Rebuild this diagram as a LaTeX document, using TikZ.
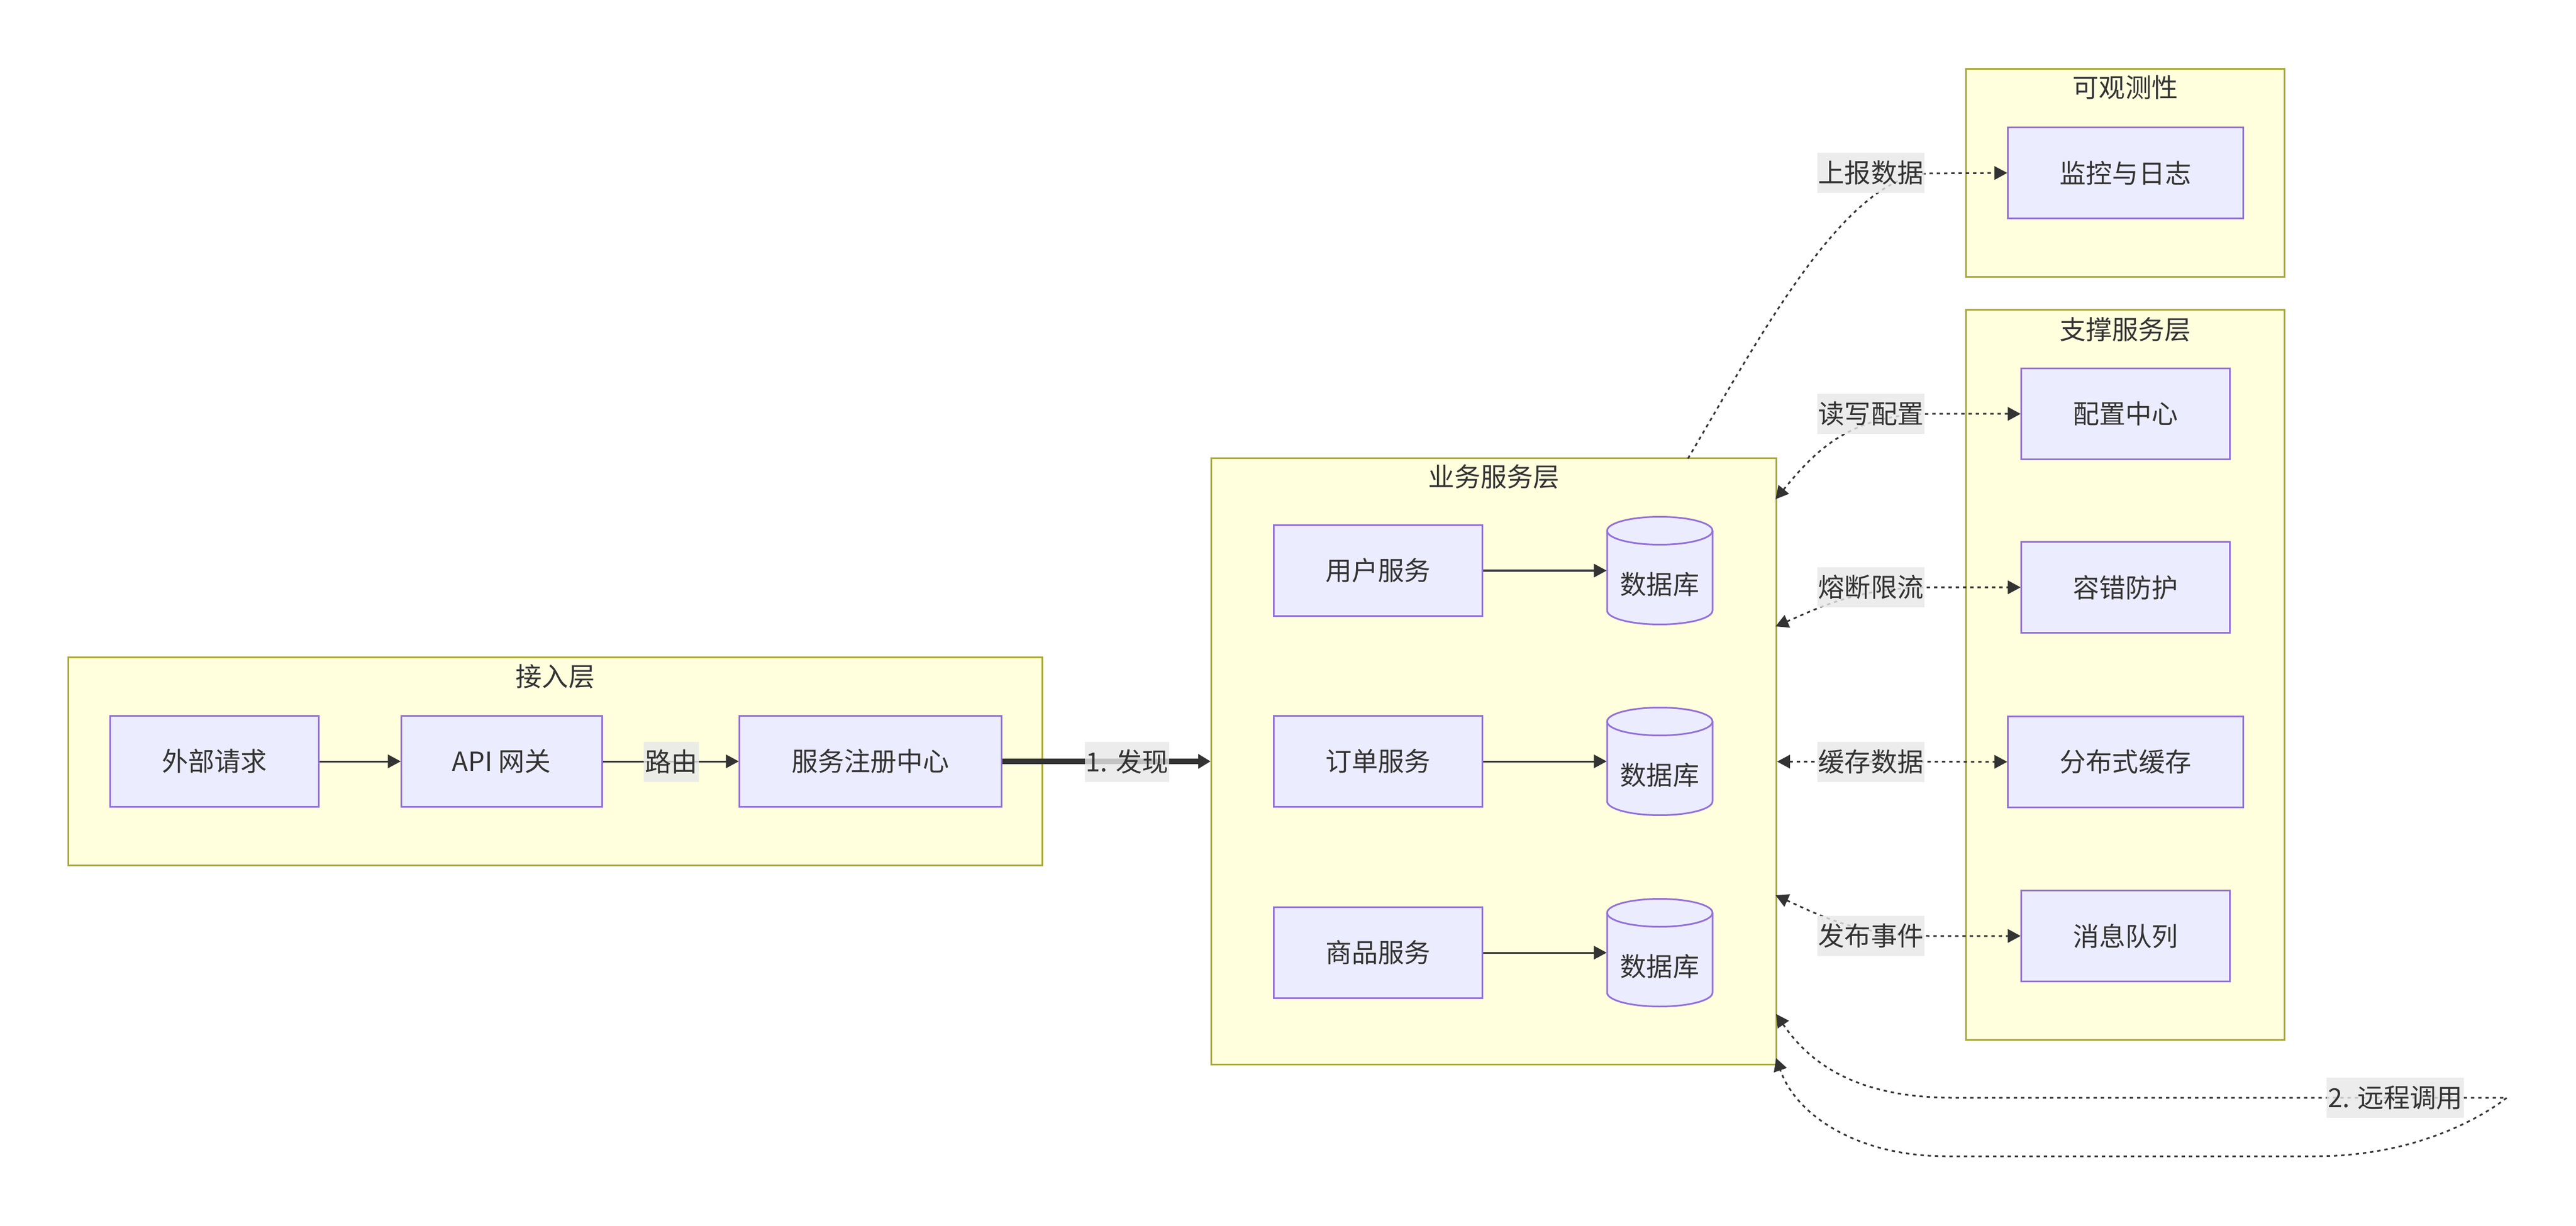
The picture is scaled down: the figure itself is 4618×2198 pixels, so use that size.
\documentclass[tikz,border=0pt]{standalone}
\usepackage{fontspec}
\setmainfont{Noto Sans CJK SC}
\usetikzlibrary{arrows.meta}
\definecolor{clfill}{HTML}{FFFFDE}
\definecolor{clline}{HTML}{AAAA33}
\definecolor{ndfill}{HTML}{ECECFF}
\definecolor{ndline}{HTML}{9370DB}
\definecolor{txt}{HTML}{333333}
\definecolor{lblbg}{HTML}{E8E8E8}
\pgfdeclarelayer{clusters}
\pgfdeclarelayer{edges}
\pgfsetlayers{clusters,edges,main}
\newcommand{\dbcyl}[3]{%
 \path[dbbody] (#2-94.5,#3-71.5) -- (#2-94.5,#3+71.5) .. controls (#2-94.5,#3+85.31) and (#2-52.19,#3+96.5) .. (#2,#3+96.5) .. controls (#2+52.19,#3+96.5) and (#2+94.5,#3+85.31) .. (#2+94.5,#3+71.5) -- (#2+94.5,#3-71.5) .. controls (#2+94.5,#3-85.31) and (#2+52.19,#3-96.5) .. (#2,#3-96.5) .. controls (#2-52.19,#3-96.5) and (#2-94.5,#3-85.31) .. (#2-94.5,#3-71.5) -- cycle;
 \draw[draw=ndline, line width=0.03cm] (#2-94.5,#3-71.5) .. controls (#2-94.5,#3-57.69) and (#2-52.19,#3-46.5) .. (#2,#3-46.5) .. controls (#2+52.19,#3-46.5) and (#2+94.5,#3-57.69) .. (#2+94.5,#3-71.5);
 \node[dbhold] (#1) at (#2,#3) {};
 \node[inner sep=0pt] (#1t) at (#2,#3+25) {数据库};
}
\begin{document}
\begin{tikzpicture}[x=0.01cm,y=-0.01cm,
  every node/.style={font=\fontsize{13.4}{16}\selectfont, text=txt},
  cluster/.style={rectangle, draw=clline, fill=clfill, line width=0.03cm, inner sep=0pt},
  ctitle/.style={inner sep=0pt},
  svc/.style={rectangle, draw=ndline, fill=ndfill, line width=0.03cm, inner sep=0pt, minimum height=1.62cm},
  dbhold/.style={rectangle, inner sep=0pt, minimum width=1.89cm, minimum height=1.93cm},
  dbbody/.style={draw=ndline, fill=ndfill, line width=0.03cm},
  elabel/.style={rectangle, fill=lblbg, fill opacity=0.8, text opacity=1, inner xsep=0.02cm, inner ysep=0pt, minimum height=0.72cm},
  flow/.style={draw=txt, line width=0.03cm, -{Triangle[length=0.23cm,width=0.24cm]}},
  heavyflow/.style={draw=txt, line width=0.1cm, -{Triangle[length=0.22cm,width=0.25cm]}},
  dotflow/.style={draw=txt, line width=0.03cm, dash pattern=on 0.06cm off 0.07cm},
  tipend/.style={-{Triangle[length=0.23cm,width=0.24cm]}},
  tipboth/.style={{Triangle[length=0.23cm,width=0.24cm]}-{Triangle[length=0.23cm,width=0.24cm]}},
]
\useasboundingbox (0,0) rectangle (4618,2198);

% clusters
\begin{pgfonlayer}{clusters}
\fill[white] (0,0) rectangle (4618,2198);
\node[cluster, minimum width=17.45cm, minimum height=3.72cm] (access) at (995.5,1365) {};
\node[cluster, minimum width=10.12cm, minimum height=10.86cm] (biz) at (2678,1365) {};
\node[cluster, minimum width=5.70cm, minimum height=3.72cm] (obs) at (3810,310) {};
\node[cluster, minimum width=5.70cm, minimum height=13.08cm] (sup) at (3810,1210) {};
\end{pgfonlayer}

\node[ctitle] (accesst) at (995.5,1213) {接入层};
\node[ctitle] (bizt) at (2678,855) {业务服务层};
\node[ctitle] (obst) at (3810,157) {可观测性};
\node[ctitle] (supt) at (3810,591) {支撑服务层};

% access layer nodes
\node[svc, minimum width=3.73cm] (ext) at (384.5,1365) {外部请求};
\node[svc, minimum width=3.59cm] (gw) at (899.5,1365) {API 网关};
\node[svc, minimum width=4.69cm] (reg) at (1560.5,1365) {服务注册中心};

% business services
\node[svc, minimum width=3.73cm] (usr) at (2470.5,1023) {用户服务};
\node[svc, minimum width=3.73cm] (ord) at (2470.5,1365) {订单服务};
\node[svc, minimum width=3.73cm] (prd) at (2470.5,1708) {商品服务};
\dbcyl{db1}{2975.5}{1023}
\dbcyl{db2}{2975.5}{1365}
\dbcyl{db3}{2975.5}{1708}

% observability and support
\node[svc, minimum width=4.21cm] (mon) at (3810.5,310) {监控与日志};
\node[svc, minimum width=3.73cm] (cfg) at (3810.5,742) {配置中心};
\node[svc, minimum width=3.73cm] (ft) at (3810.5,1053) {容错防护};
\node[svc, minimum width=4.21cm] (cache) at (3810.5,1366) {分布式缓存};
\node[svc, minimum width=3.73cm] (mq) at (3810.5,1678) {消息队列};

% free ends on the business cluster border
\coordinate (upstart) at (3026,822);
\coordinate (rwend) at (3183,895);
\coordinate (flend) at (3183,1123);
\coordinate (pubend) at (3183,1605);
\coordinate (rc1) at (3184,1818);
\coordinate (rc2) at (3184,1897);
\coordinate (rccorner) at (4494,1968);

% edges
\begin{pgfonlayer}{edges}
\draw[flow] (ext) -- (gw);
\draw[flow] (gw) -- (reg);
\draw[heavyflow] (reg) -- (biz);
\draw[flow] (usr) -- (db1);
\draw[flow] (ord) -- (db2);
\draw[flow] (prd) -- (db3);
\draw[dotflow, tipend] (upstart) .. controls (3153,607) and (3310,311) .. (3460,311) -- (mon.west);
\draw[dotflow, tipboth] (rwend) .. controls (3247,818) and (3310,742) .. (3460,742) -- (cfg.west);
\draw[dotflow, tipboth] (flend) .. controls (3260,1090) and (3330,1053) .. (3460,1053) -- (ft.west);
\draw[dotflow, tipboth] (biz) -- (cache);
\draw[dotflow, tipboth] (pubend) .. controls (3260,1640) and (3330,1678) .. (3460,1678) -- (mq.west);
\draw[dotflow, tipboth] (rc1) .. controls (3240,1900) and (3320,1968) .. (3500,1968) -- (rccorner) .. controls (4440,2010) and (4320,2073) .. (4150,2073) -- (3490,2073) .. controls (3330,2073) and (3220,2000) .. (rc2);
\end{pgfonlayer}

% edge labels
\node[elabel] (lroute) at (1203.5,1366) {路由};
\node[elabel] (ldisc) at (2020.5,1366) {1. 发现};
\node[elabel] (lrep) at (3354,310) {上报数据};
\node[elabel] (lrw) at (3354,742) {读写配置};
\node[elabel] (lfl) at (3354,1053) {熔断限流};
\node[elabel] (lcache) at (3354,1366) {缓存数据};
\node[elabel] (lpub) at (3354,1678) {发布事件};
\node[elabel] (lrpc) at (4294,1968) {2. 远程调用};
\end{tikzpicture}
\end{document}
